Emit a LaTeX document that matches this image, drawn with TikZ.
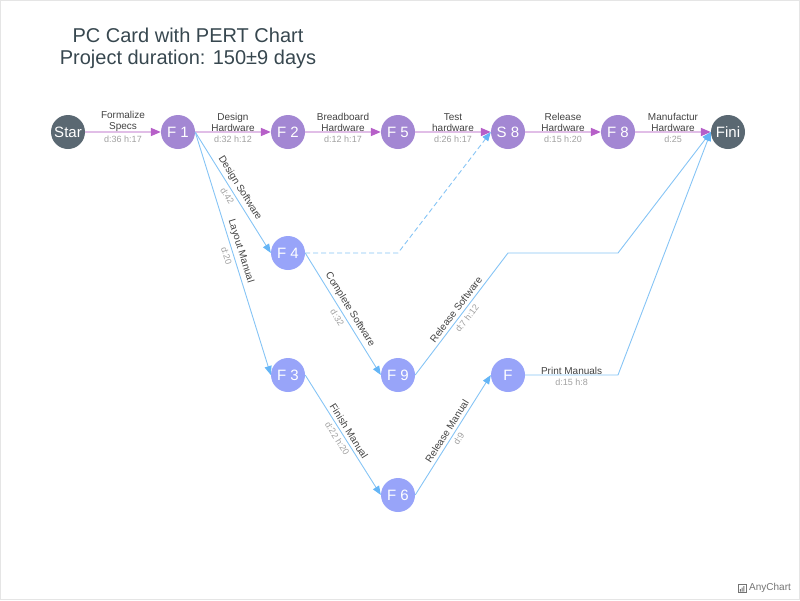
\documentclass[tikz,border=0pt]{standalone}
\usepackage{fontspec}
\setmainfont{Liberation Sans}
\usetikzlibrary{arrows.meta}
\definecolor{purp}{HTML}{A387D3}
\definecolor{bluen}{HTML}{98A4F9}
\definecolor{darkn}{HTML}{5A6872}
\definecolor{critline}{HTML}{E1BEE7}
\definecolor{crittip}{HTML}{B65FC8}
\definecolor{ncline}{HTML}{86C4F5}
\definecolor{nctip}{HTML}{64B5F6}
\definecolor{titlec}{HTML}{37474F}
\definecolor{lblc}{HTML}{424242}
\definecolor{statc}{HTML}{A0A0A0}
\tikzset{
  ms/.style={circle, minimum size=34pt, inner sep=0pt, text=white, font=\fontsize{15}{15}\selectfont},
  msp/.style={ms, fill=purp},
  msb/.style={ms, fill=bluen},
  msd/.style={ms, fill=darkn},
  crit/.style={draw=critline, line width=1.6pt, -{Triangle[length=10pt,width=8pt,color=crittip]}},
  ncrit/.style={draw=ncline, line width=0.9pt, -{Triangle[length=9pt,width=7pt,color=nctip]}},
  lbl/.style={text=lblc, font=\fontsize{10}{11}\selectfont, align=center, inner sep=1pt},
  stat/.style={text=statc, font=\fontsize{9}{10}\selectfont, inner sep=1pt},
}
\begin{document}
\begin{tikzpicture}[x=1pt,y=-1pt]
\useasboundingbox (0,0) rectangle (800,600);
\draw[draw=black!10, line width=0.8pt] (0.5,0.5) rectangle (799.5,599.5);
% title
\node[text=titlec, font=\fontsize{20}{22}\selectfont, align=center] (title) at (188,48) {PC Card with PERT Chart\\Project duration: 150±9 days};
% nodes
\node[msd] (st) at (68,132) {Star};
\node[msp] (f1) at (178,132) {F 1};
\node[msp] (f2) at (288,132) {F 2};
\node[msp] (f5) at (398,132) {F 5};
\node[msp] (s8) at (508,132) {S 8};
\node[msp] (f8) at (618,132) {F 8};
\node[msd] (fi) at (728,132) {Fini};
\node[msb] (f4) at (288,253) {F 4};
\node[msb] (f3) at (288,375) {F 3};
\node[msb] (f9) at (398,375) {F 9};
\node[msb] (ff) at (508,375) {F};
\node[msb] (f6) at (398,495) {F 6};
\coordinate (c1) at (398,253);
\coordinate (c2) at (508,253);
\coordinate (c3) at (618,253);
\coordinate (c4) at (618,375);
% critical path
\draw[crit] (st) -- (f1);
\draw[crit] (f1) -- (f2);
\draw[crit] (f2) -- (f5);
\draw[crit] (f5) -- (s8);
\draw[crit] (s8) -- (f8);
\draw[crit] (f8) -- (fi);
\foreach \a/\b/\t/\s in {st/f1/{Formalize\\Specs}/{d:36 h:17}, f1/f2/{Design\\Hardware}/{d:32 h:12}, f2/f5/{Breadboard\\Hardware}/{d:12 h:17}, f5/s8/{Test\\hardware}/{d:26 h:17}, s8/f8/{Release\\Hardware}/{d:15 h:20}, f8/fi/{Manufactur\\Hardware}/{d:25}}{
  \path (\a) -- (\b) node[midway, lbl, anchor=south, yshift=-1pt] {\t} node[midway, stat, anchor=north, yshift=-2.5pt] {\s};
}
% non-critical
\draw[ncrit] (f1.east) -- (f4.west) node[midway, sloped, lbl, above=2pt] {Design Software} node[midway, sloped, stat, below=2pt] {d:42};
\draw[ncrit] (f1.east) -- (f3.west) node[midway, sloped, lbl, above=2pt] {Layout Manual} node[midway, sloped, stat, below=2pt] {d:20};
\draw[ncrit] (f4.east) -- (f9.west) node[midway, sloped, lbl, above=2pt] {Complete Software} node[midway, sloped, stat, below=2pt] {d:32};
\draw[ncrit] (f3.east) -- (f6.west) node[midway, sloped, lbl, above=2pt] {Finish Manual} node[midway, sloped, stat, below=2pt] {d:22 h:20};
\draw[ncrit] (f6.east) -- (ff.west) node[midway, sloped, lbl, above=2pt] {Release Manual} node[midway, sloped, stat, below=2pt] {d:9};
\draw[ncrit] (f9.east) -- (c2) node[midway, sloped, lbl, above=2pt] {Release Software} node[midway, sloped, stat, below=2pt] {d:7 h:12} -- (c3) -- (fi.west);
\draw[ncrit] (ff.east) -- (c4) node[midway, lbl, anchor=south, yshift=-1pt] {Print Manuals} node[midway, stat, anchor=north, yshift=-2.5pt] {d:15 h:8} -- (fi.west);
\draw[ncrit, dash pattern=on 5pt off 3pt] (f4.east) -- (c1) -- (s8.west);
% credit
\node[text=black!55, font=\fontsize{10}{10}\selectfont, anchor=west, inner sep=0pt] (ac) at (749,588) {AnyChart};
\draw[black!55, line width=0.6pt] (738,584.5) rectangle (746,592.5);
\fill[black!55] (739.8,591.5) rectangle (740.8,589) (741.6,591.5) rectangle (742.6,587.5) (743.4,591.5) rectangle (744.4,586);
\end{tikzpicture}
\end{document}
